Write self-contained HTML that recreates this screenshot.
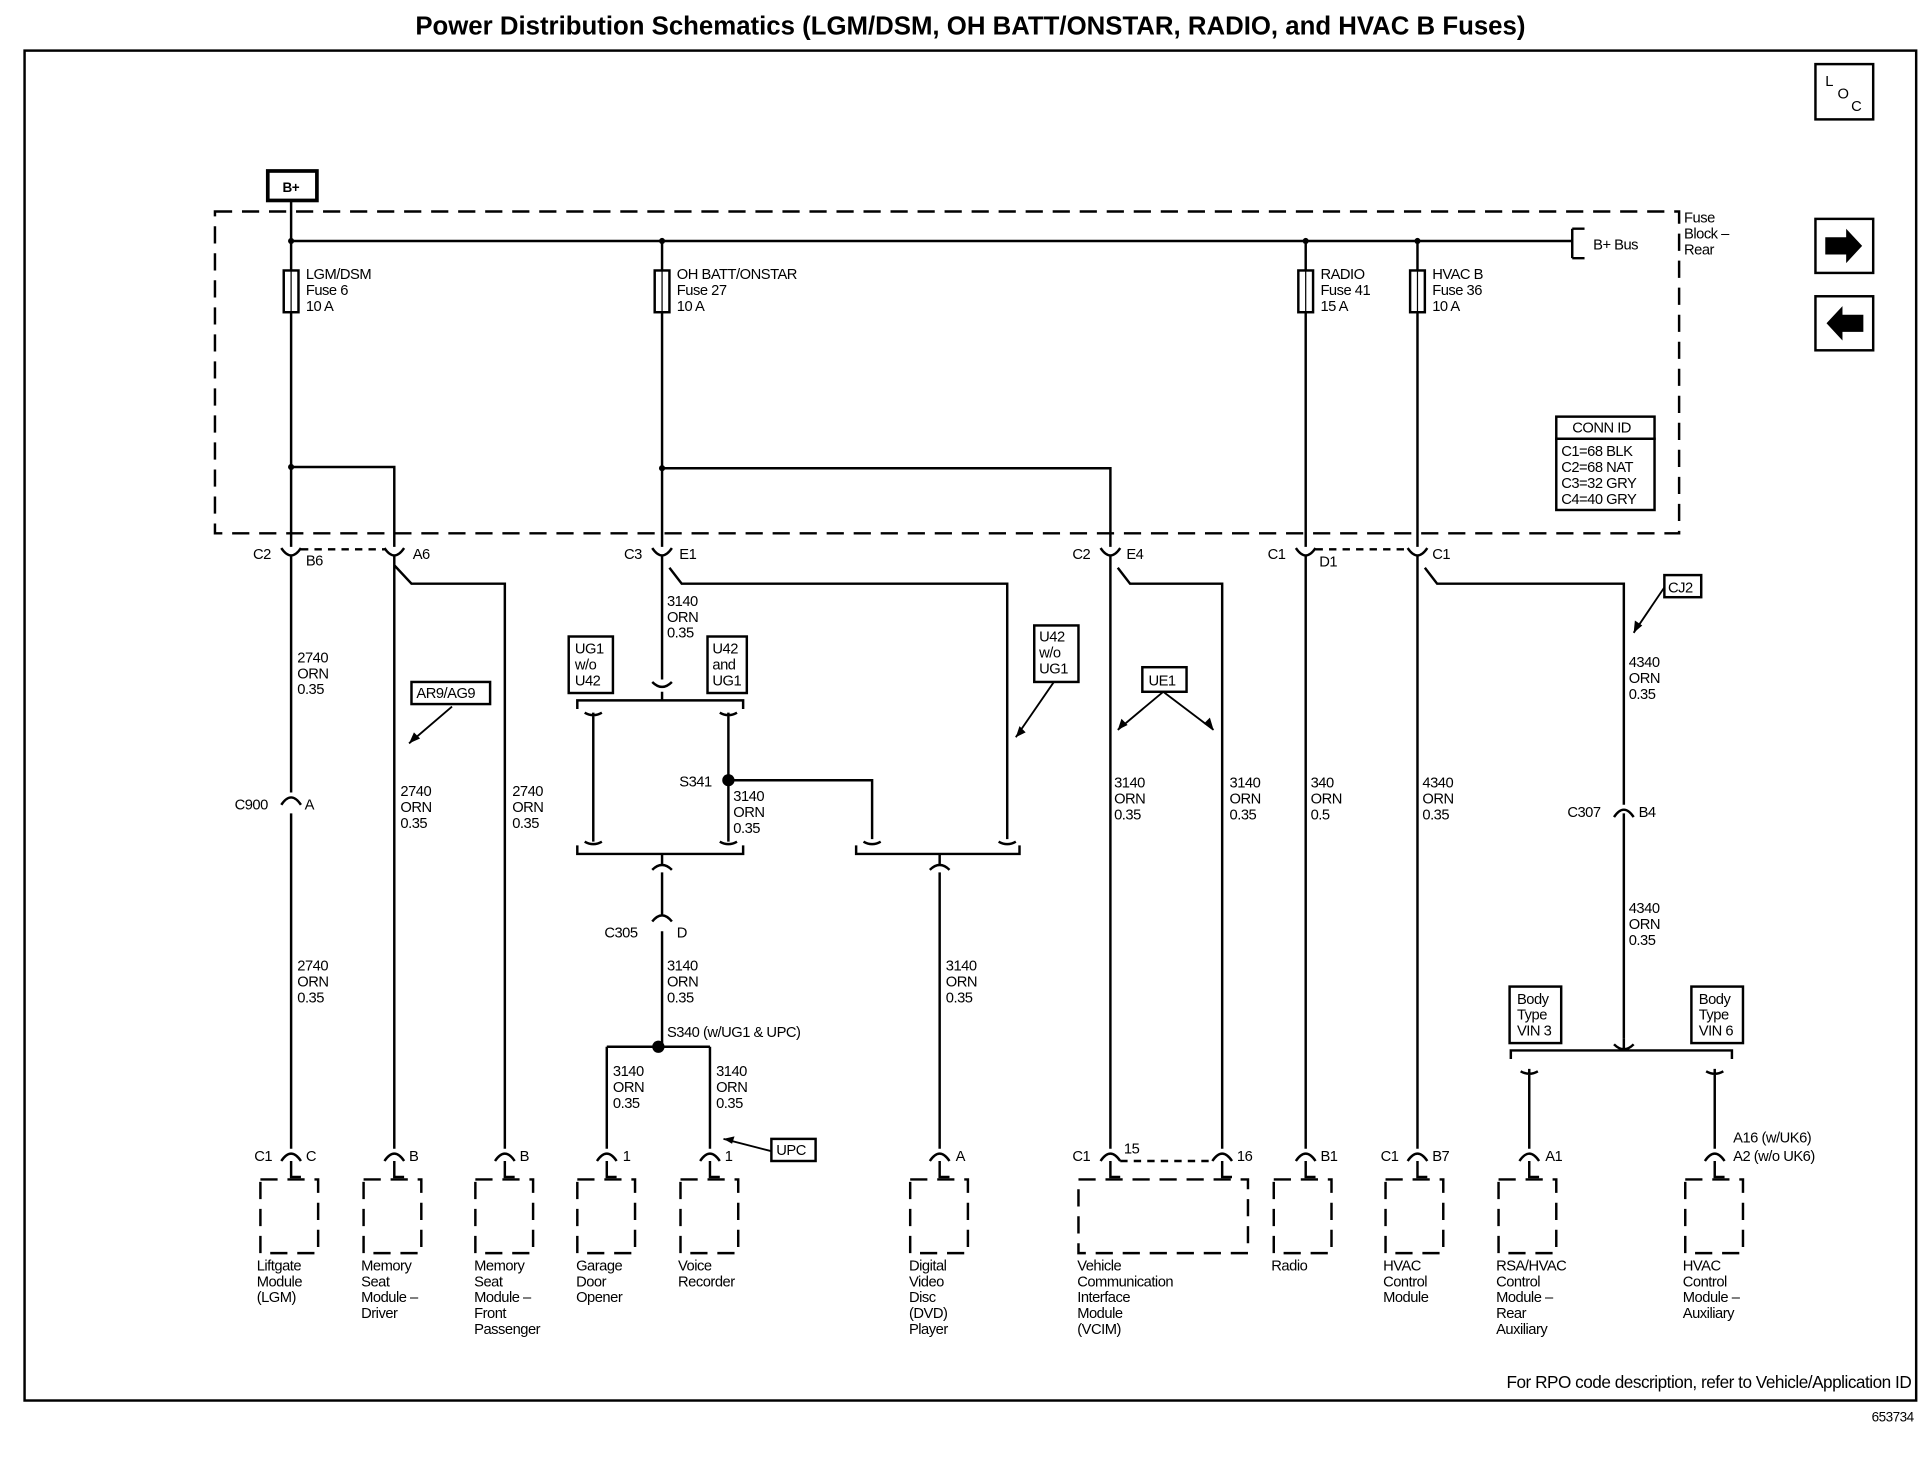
<!DOCTYPE html>
<html><head><meta charset="utf-8"><style>
html,body{margin:0;padding:0;background:#fff}
svg{display:block}
text{font-family:"Liberation Sans",Arial,sans-serif;font-size:12px;fill:#000;letter-spacing:-0.4px}
.b{font-weight:bold}
</style></head><body>
<svg width="1926" height="1472" viewBox="0 0 1568 1198" xmlns="http://www.w3.org/2000/svg">
<g stroke="#000" fill="none" stroke-width="2">
<rect x="20" y="41" width="1540" height="1099"/>
<rect x="1478" y="52" width="47" height="45"/>
<rect x="1478" y="178" width="47" height="44"/>
<rect x="1478" y="241" width="47" height="44"/>
<rect x="175" y="172" width="1192" height="262" stroke-dasharray="14,8"/>
<rect x="218" y="139" width="40" height="24" stroke-width="3"/>
<path d="M237 163V445M237 196H1280M1280 186V210M1290 186H1280M1290 210H1280"/>
<path d="M539 196V445M1063 196V445M1154 196V445"/>
<rect x="231" y="220" width="12" height="34" fill="#fff"/>
<rect x="533" y="220" width="12" height="34" fill="#fff"/>
<rect x="1057" y="220" width="12" height="34" fill="#fff"/>
<rect x="1148" y="220" width="12" height="34" fill="#fff"/>
<path d="M237 220V254M539 220V254M1063 220V254M1154 220V254" stroke-width="1"/>
<path d="M237 380H321V445M539 381H904V445"/>
<path d="M229 446Q237 458 245 446M313 446Q321 458 329 446M531 446Q539 458 547 446M896 446Q904 458 912 446M1055 446Q1063 458 1071 446M1146 446Q1154 458 1162 446"/>
<path d="M245 447H313M1071 447H1146" stroke-dasharray="6,5"/>
<path d="M237 452V645M237 662V935M321 452V935M321 460L335 475H411V935"/>
<path d="M539 452V553M545 462L555 475H820V683"/>
<path d="M904 452V935M910 462L920 475H995V935"/>
<path d="M1063 452V935M1154 452V935M1160 462L1170 475H1322V655M1322 662V845"/>
<path d="M229 655Q237 643 245 655"/>
<path d="M531 555Q539 563 547 555M539 563V570M470 577V570H605V577M483 580V685M593 580V685M476 580Q483 584 490 580M586 580Q593 584 600 580M476 685Q483 689 490 685M586 685Q593 689 600 685M470 688V695H605V688M593 635H710V683M703 685Q710 689 717 685M813 685Q820 689 827 685M697 688V695H830V688"/>
<path d="M539 695V703M531 708Q539 700 547 708M539 710V745M531 750Q539 740 547 750M539 758V852M494 852H578M494 852V935M578 852V935M765 695V703M757 708Q765 700 773 708M765 710V935"/>
<path d="M1322 845V853M1230 862V855H1410V862M1314 850Q1322 858 1330 850M1245 870V935M1396 870V935M1238 872Q1245 876 1252 872M1389 872Q1396 876 1403 872"/>
<path d="M1314 665Q1322 653 1330 665"/>
<path d="M229 945Q237 933 245 945M313 945Q321 933 329 945M403 945Q411 933 419 945M486 945Q494 933 502 945M570 945Q578 933 586 945M757 945Q765 933 773 945M896 945Q904 933 912 945M987 945Q995 933 1003 945M1055 945Q1063 933 1071 945M1146 945Q1154 933 1162 945M1237 945Q1245 933 1253 945M1388 945Q1396 933 1404 945"/>
<path d="M237 945V958H245M321 945V958H329M411 945V958H419M494 945V958H502M578 945V958H586M765 945V958H773M904 945V958H912M995 945V958H1003M1063 945V958H1071M1154 945V958H1162M1245 945V958H1253M1396 945V958H1404"/>
<path d="M912 945H987" stroke-dasharray="6,5"/>
<g stroke-dasharray="14,8">
<rect x="212" y="960" width="47" height="60"/>
<rect x="296" y="960" width="47" height="60"/>
<rect x="387" y="960" width="47" height="60"/>
<rect x="470" y="960" width="47" height="60"/>
<rect x="554" y="960" width="47" height="60"/>
<rect x="741" y="960" width="47" height="60"/>
<rect x="878" y="960" width="138" height="60"/>
<rect x="1037" y="960" width="47" height="60"/>
<rect x="1128" y="960" width="47" height="60"/>
<rect x="1220" y="960" width="47" height="60"/>
<rect x="1372" y="960" width="47" height="60"/>
</g>
<g stroke-width="2">
<rect x="1267" y="339" width="80" height="18"/>
<rect x="1267" y="357" width="80" height="58"/>
<rect x="335" y="555" width="64" height="18"/>
<rect x="463" y="518" width="36" height="46"/>
<rect x="576" y="518" width="32" height="46"/>
<rect x="842" y="509" width="36" height="46"/>
<rect x="930" y="543" width="36" height="20"/>
<rect x="1355" y="468" width="30" height="18"/>
<rect x="1229" y="803" width="42" height="46"/>
<rect x="1377" y="803" width="42" height="46"/>
<rect x="628" y="927" width="36" height="18"/>
</g>
<path d="M368 575L333 605M858 555L827 600M947 563L910 594M947 563L988 594M1355 478L1330 515M628 937L589 927" stroke-width="1.5"/>
</g>
<g fill="#000">
<polygon points="333,605 337,596 342,601"/>
<polygon points="827,600 830,591 835,596"/>
<polygon points="910,594 913,585 918,590"/>
<polygon points="988,594 980,589 985,584"/>
<polygon points="1330,515 1331,505 1337,509"/>
<polygon points="589,927 598,925 596,931"/>
<circle cx="593" cy="635" r="5"/>
<circle cx="536" cy="852" r="5"/>
<circle cx="237" cy="196" r="2.5"/><circle cx="237" cy="380" r="2.5"/><circle cx="539" cy="381" r="2.5"/><circle cx="539" cy="196" r="2.5"/><circle cx="1063" cy="196" r="2.5"/><circle cx="1154" cy="196" r="2.5"/>
<path d="M1486 193H1503V186L1516 200L1503 214V207H1486Z"/>
<path d="M1517 256H1500V249L1487 263L1500 277V270H1517Z"/>
</g>
<text x="790" y="28" text-anchor="middle" class="b" style="font-size:21px;letter-spacing:0">Power Distribution Schematics (LGM/DSM, OH BATT/ONSTAR, RADIO, and HVAC B Fuses)</text>
<text x="1486" y="70">L</text><text x="1496" y="80">O</text><text x="1507" y="90">C</text>
<text x="230" y="156" class="b" style="font-size:11px">B+</text>
<text x="1297" y="203">B+ Bus</text>
<text x="1371" y="181">Fuse</text><text x="1371" y="194">Block –</text><text x="1371" y="207">Rear</text>
<text x="249" y="227">LGM/DSM</text><text x="249" y="240">Fuse 6</text><text x="249" y="253">10 A</text>
<text x="551" y="227">OH BATT/ONSTAR</text><text x="551" y="240">Fuse 27</text><text x="551" y="253">10 A</text>
<text x="1075" y="227">RADIO</text><text x="1075" y="240">Fuse 41</text><text x="1075" y="253">15 A</text>
<text x="1166" y="227">HVAC B</text><text x="1166" y="240">Fuse 36</text><text x="1166" y="253">10 A</text>
<text x="1280" y="352">CONN ID</text>
<text x="1271" y="371">C1=68 BLK</text><text x="1271" y="384">C2=68 NAT</text><text x="1271" y="397">C3=32 GRY</text><text x="1271" y="410">C4=40 GRY</text>
<text x="206" y="455">C2</text><text x="249" y="460">B6</text><text x="336" y="455">A6</text>
<text x="508" y="455">C3</text><text x="553" y="455">E1</text>
<text x="873" y="455">C2</text><text x="917" y="455">E4</text>
<text x="1032" y="455">C1</text><text x="1074" y="461">D1</text><text x="1166" y="455">C1</text>
<text x="242" y="539">2740</text><text x="242" y="552">ORN</text><text x="242" y="565">0.35</text>
<text x="543" y="493">3140</text><text x="543" y="506">ORN</text><text x="543" y="519">0.35</text>
<text x="339" y="568">AR9/AG9</text>
<text x="468" y="532">UG1</text><text x="468" y="545">w/o</text><text x="468" y="558">U42</text>
<text x="580" y="532">U42</text><text x="580" y="545">and</text><text x="580" y="558">UG1</text>
<text x="846" y="522">U42</text><text x="846" y="535">w/o</text><text x="846" y="548">UG1</text>
<text x="935" y="558">UE1</text>
<text x="1358" y="482">CJ2</text>
<text x="1326" y="543">4340</text><text x="1326" y="556">ORN</text><text x="1326" y="569">0.35</text>
<text x="191" y="659">C900</text><text x="248" y="659">A</text>
<text x="326" y="648">2740</text><text x="326" y="661">ORN</text><text x="326" y="674">0.35</text>
<text x="417" y="648">2740</text><text x="417" y="661">ORN</text><text x="417" y="674">0.35</text>
<text x="553" y="640">S341</text>
<text x="597" y="652">3140</text><text x="597" y="665">ORN</text><text x="597" y="678">0.35</text>
<text x="907" y="641">3140</text><text x="907" y="654">ORN</text><text x="907" y="667">0.35</text>
<text x="1001" y="641">3140</text><text x="1001" y="654">ORN</text><text x="1001" y="667">0.35</text>
<text x="1067" y="641">340</text><text x="1067" y="654">ORN</text><text x="1067" y="667">0.5</text>
<text x="1158" y="641">4340</text><text x="1158" y="654">ORN</text><text x="1158" y="667">0.35</text>
<text x="1276" y="665">C307</text><text x="1334" y="665">B4</text>
<text x="1326" y="743">4340</text><text x="1326" y="756">ORN</text><text x="1326" y="769">0.35</text>
<text x="492" y="763">C305</text><text x="551" y="763">D</text>
<text x="242" y="790">2740</text><text x="242" y="803">ORN</text><text x="242" y="816">0.35</text>
<text x="543" y="790">3140</text><text x="543" y="803">ORN</text><text x="543" y="816">0.35</text>
<text x="770" y="790">3140</text><text x="770" y="803">ORN</text><text x="770" y="816">0.35</text>
<text x="543" y="844">S340 (w/UG1 &amp; UPC)</text>
<text x="499" y="876">3140</text><text x="499" y="889">ORN</text><text x="499" y="902">0.35</text>
<text x="583" y="876">3140</text><text x="583" y="889">ORN</text><text x="583" y="902">0.35</text>
<text x="1235" y="817">Body</text><text x="1235" y="830">Type</text><text x="1235" y="843">VIN 3</text>
<text x="1383" y="817">Body</text><text x="1383" y="830">Type</text><text x="1383" y="843">VIN 6</text>
<text x="632" y="940">UPC</text>
<text x="1411" y="930">A16 (w/UK6)</text><text x="1411" y="945">A2 (w/o UK6)</text>
<text x="207" y="945">C1</text><text x="249" y="945">C</text>
<text x="333" y="945">B</text><text x="423" y="945">B</text>
<text x="507" y="945">1</text><text x="590" y="945">1</text><text x="778" y="945">A</text>
<text x="873" y="945">C1</text><text x="915" y="939">15</text><text x="1007" y="945">16</text>
<text x="1075" y="945">B1</text><text x="1124" y="945">C1</text><text x="1166" y="945">B7</text><text x="1258" y="945">A1</text>
<text x="209" y="1034">Liftgate</text><text x="209" y="1047">Module</text><text x="209" y="1060">(LGM)</text>
<text x="294" y="1034">Memory</text><text x="294" y="1047">Seat</text><text x="294" y="1060">Module –</text><text x="294" y="1073">Driver</text>
<text x="386" y="1034">Memory</text><text x="386" y="1047">Seat</text><text x="386" y="1060">Module –</text><text x="386" y="1073">Front</text><text x="386" y="1086">Passenger</text>
<text x="469" y="1034">Garage</text><text x="469" y="1047">Door</text><text x="469" y="1060">Opener</text>
<text x="552" y="1034">Voice</text><text x="552" y="1047">Recorder</text>
<text x="740" y="1034">Digital</text><text x="740" y="1047">Video</text><text x="740" y="1060">Disc</text><text x="740" y="1073">(DVD)</text><text x="740" y="1086">Player</text>
<text x="877" y="1034">Vehicle</text><text x="877" y="1047">Communication</text><text x="877" y="1060">Interface</text><text x="877" y="1073">Module</text><text x="877" y="1086">(VCIM)</text>
<text x="1035" y="1034">Radio</text>
<text x="1126" y="1034">HVAC</text><text x="1126" y="1047">Control</text><text x="1126" y="1060">Module</text>
<text x="1218" y="1034">RSA/HVAC</text><text x="1218" y="1047">Control</text><text x="1218" y="1060">Module –</text><text x="1218" y="1073">Rear</text><text x="1218" y="1086">Auxiliary</text>
<text x="1370" y="1034">HVAC</text><text x="1370" y="1047">Control</text><text x="1370" y="1060">Module –</text><text x="1370" y="1073">Auxiliary</text>
<text x="1556" y="1130" text-anchor="end" style="font-size:14px">For RPO code description, refer to Vehicle/Application ID</text>
<text x="1558" y="1157" text-anchor="end" style="font-size:11px">653734</text>
</svg>
</body></html>
